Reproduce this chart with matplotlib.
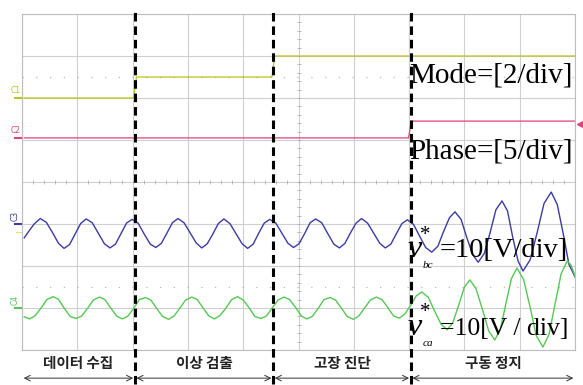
import numpy as np
import matplotlib
matplotlib.use('Agg')
import matplotlib.pyplot as plt

plt.rcParams['font.family'] = ['Noto Sans CJK KR', 'DejaVu Sans']

# ---- data (x in divisions of the scope screen, 0..10) ----
# C1: mode, 2/div
mode_t = [0.04, 2.02, 2.07, 4.52, 4.57, 10.0]
mode_v = [0, 0, 1, 1, 2, 2]

# C2: phase, 5/div
phase_t = [0.04, 6.99, 7.04, 10.0]
phase_v = [0, 0, 2, 2]

# C3: v*_bc [V]
vbc_t = [0.04, 0.13, 0.22,
         0.33, 0.44, 0.55, 0.66, 0.76, 0.86, 0.96, 1.06,
         1.16, 1.27, 1.38, 1.49, 1.59, 1.69, 1.79, 1.89,
         1.99, 2.10, 2.21, 2.32, 2.42, 2.52, 2.62, 2.72,
         2.82, 2.93, 3.04, 3.15, 3.25, 3.35, 3.45, 3.55,
         3.65, 3.76, 3.87, 3.98, 4.08, 4.18, 4.28, 4.38,
         4.48, 4.59, 4.70, 4.81, 4.91, 5.01, 5.11, 5.21,
         5.31, 5.42, 5.53, 5.64, 5.74, 5.84, 5.94, 6.04,
         6.14, 6.25, 6.36, 6.47, 6.57, 6.67, 6.77, 6.87,
         6.97, 7.08, 7.19, 7.30, 7.41, 7.52, 7.62, 7.73,
         7.83, 7.94, 8.04, 8.15, 8.25, 8.36, 8.47, 8.57,
         8.68, 8.78, 8.87, 8.97, 9.06, 9.19, 9.32, 9.44,
         9.57, 9.68, 9.79, 9.89, 10.0]
vbc_v = [-3.3, -1.6, 0.0,
         1.3, 0.4, -2.0, -4.6, -5.8, -4.9, -2.4, 0.1,
         1.2, 0.3, -2.2, -4.7, -5.7, -4.8, -2.3, 0.2,
         1.1, 0.2, -2.4, -4.8, -5.6, -4.6, -2.2, 0.3,
         1.3, 0.3, -2.1, -4.5, -5.7, -4.7, -2.4, 0.1,
         1.2, 0.1, -2.3, -4.7, -5.8, -4.8, -2.2, 0.2,
         1.1, 0.2, -2.2, -4.6, -5.6, -4.7, -2.3, 0.3,
         1.2, 0.3, -2.3, -4.8, -5.7, -4.6, -2.1, 0.2,
         1.3, 0.2, -2.2, -4.6, -5.7, -4.8, -2.3, 0.1,
         1.0, -0.1, -2.9, -5.6, -6.7, -5.3, -1.9, 1.5,
         2.9, 1.1, -3.1, -7.3, -9.1, -7.0, -1.8, 3.4,
         5.5, 3.1, -2.9, -8.8, -11.2, -8.5, -1.8, 4.9,
         7.6, 4.6, -2.5, -9.6, -12.6]

# C4: v*_ca [V]
vca_t = [0.04,
         0.14, 0.24, 0.35, 0.45, 0.56, 0.66, 0.76, 0.87,
         0.98, 1.08, 1.19, 1.29, 1.40, 1.50, 1.60, 1.71,
         1.81, 1.91, 2.02, 2.12, 2.23, 2.33, 2.43, 2.54,
         2.65, 2.75, 2.86, 2.96, 3.07, 3.17, 3.28, 3.38,
         3.48, 3.58, 3.69, 3.79, 3.90, 4.00, 4.11, 4.21,
         4.32, 4.42, 4.53, 4.63, 4.74, 4.84, 4.95, 5.05,
         5.15, 5.25, 5.36, 5.46, 5.57, 5.67, 5.78, 5.88,
         5.99, 6.09, 6.20, 6.30, 6.41, 6.51, 6.62, 6.72,
         6.82, 6.92, 7.03, 7.13, 7.23, 7.35, 7.46, 7.58,
         7.69, 7.79, 7.90, 8.00, 8.10, 8.21, 8.33, 8.44,
         8.55, 8.65, 8.75, 8.85, 8.95, 9.07, 9.19, 9.30,
         9.42, 9.53, 9.64, 9.75, 9.86, 9.93, 10.0]
vca_v = [-2.1,
         -2.6, -1.8, 0.1, 2.0, 2.7, 2.1, 0.0, -2.0,
         -2.5, -1.9, 0.0, 1.9, 2.6, 2.0, 0.1, -1.9,
         -2.6, -2.0, -0.1, 2.0, 2.5, 1.9, 0.0, -2.0,
         -2.7, -1.9, 0.1, 1.9, 2.6, 2.0, -0.1, -1.9,
         -2.6, -1.8, 0.0, 2.0, 2.7, 1.9, 0.0, -2.0,
         -2.5, -1.9, 0.1, 1.9, 2.6, 2.0, 0.1, -1.9,
         -2.6, -2.0, 0.0, 2.0, 2.5, 1.9, -0.1, -2.0,
         -2.7, -1.9, 0.1, 1.9, 2.6, 2.0, 0.0, -1.9,
         -2.4, -1.5, 0.7, 2.9, 3.8, 2.5, -0.7, -3.9,
         -5.2, -3.5, 0.8, 5.0, 6.7, 4.6, -0.5, -5.5,
         -7.6, -5.1, 1.0, 7.0, 9.5, 6.8, 0.1, -6.6,
         -9.3, -6.3, 1.0, 8.2, 11.2, 10.2, 7.6]

# stage boundaries and names
stage_edges = [0.0, 2.04, 4.54, 7.03, 10.0]
stage_names = ['데이터 수집', '이상 검출', '고장 진단', '구동 정지']

# ---- figure ----
fig = plt.figure(figsize=(5.83, 3.85), dpi=100)
ax = fig.add_axes([22 / 583, 35 / 385, 553 / 583, 336 / 385])
ax.set_xlim(0, 10)
ax.set_ylim(0, 8)
ax.set_xticks(np.arange(0, 11))
ax.set_yticks(np.arange(0, 9))
ax.tick_params(length=0, labelbottom=False, labelleft=False)
ax.grid(True, color='#cfcfcf', lw=0.8)
for s in ax.spines.values():
    s.set_color('#bdbdbd')
    s.set_linewidth(0.8)

# center graticule ticks
tk = np.arange(0, 10.01, 0.2)
ax.plot(tk, np.full(len(tk), 4.0), ls='', marker='|', ms=3, color='#b0b0b0', mew=0.6)
tk = np.arange(0, 8.01, 0.2)
ax.plot(np.full(len(tk), 5.0), tk, ls='', marker='_', ms=3, color='#b0b0b0', mew=0.6)
ax.axhline(6.5, color='#b8b8b8', lw=0.9, ls=(0, (1, 10)))
ax.axhline(1.5, color='#b8b8b8', lw=0.9, ls=(0, (1, 10)))

# channel ground offsets (div)
c1_off, c2_off, c3_off, c4_off = 6.0, 5.05, 3.0, 1.0
col1, col2, col3, col4 = '#b9c41c', '#e0407c', '#3b3ba6', '#55c855'

ax.plot(mode_t, c1_off + np.array(mode_v) / 2.0, color=col1, lw=0.9)
ax.plot(phase_t, c2_off + np.array(phase_v) / 5.0, color=col2, lw=0.9)
ax.plot(vbc_t, c3_off + np.array(vbc_v) / 10.0, color=col3, lw=1.0)
ax.plot(vca_t, c4_off + np.array(vca_v) / 10.0, color=col4, lw=1.0)

# channel markers on left
for name, off, col, rot in [('C1', c1_off, col1, 0), ('C2', c2_off, col2, 0),
                            ('C3', c3_off, col3, 90), ('C4', c4_off, col4, 90)]:
    ax.plot([-0.13, -0.01], [off, off], color=col, lw=1.5, clip_on=False)
    ax.text(-0.12, off + 0.08, name, color=col, fontsize=5.5, rotation=rot,
            ha='center', va='bottom', family='DejaVu Sans')
ax.plot([-0.11, -0.02], [2.8, 2.8], color='#e8e070', lw=0.8, clip_on=False)
ax.plot([10.09], [5.38], marker='<', ms=4, color=col2, clip_on=False)

# annotations
serif = 'Liberation Serif'
ax.text(7.0, 6.36, 'Mode=[2/div]', family=serif, fontsize=21, va='baseline')
ax.text(7.0, 4.57, 'Phase=[5/div]', family=serif, fontsize=21, va='baseline')
for yb, sub, rest, fs in [(2.21, 'bc', '=10[V/div]', 20.5), (0.36, 'ca', '=10[V / div]', 18.5)]:
    ax.text(6.97, yb, 'v', family=serif, style='italic', fontsize=23, va='baseline')
    ax.text(7.19, yb + 0.42, '*', family=serif, fontsize=15, va='baseline')
    ax.text(7.24, yb - 0.26, sub, family=serif, style='italic', fontsize=8, va='baseline')
    ax.text(7.55, yb, rest, family=serif, fontsize=fs, va='baseline')

# stage dividers
for x in stage_edges[1:-1]:
    ax.plot([x, x], [-0.8, 8.15], color='black', lw=2.2, dashes=(2.8, 1.6),
            clip_on=False, zorder=5)

# stage labels and arrows
for i, name in enumerate(stage_names):
    x0, x1 = stage_edges[i], stage_edges[i + 1]
    ax.text((x0 + x1) / 2, -0.31, name, ha='center', va='center',
            fontsize=10.5, fontweight='bold', color='#222222')
    ax.annotate('', xy=(x0 + 0.03, -0.67), xytext=(x1 - 0.03, -0.67),
                arrowprops=dict(arrowstyle='<->', lw=0.7, color='#333333',
                                shrinkA=0, shrinkB=0),
                annotation_clip=False)

fig.savefig('out.png', dpi=100)
